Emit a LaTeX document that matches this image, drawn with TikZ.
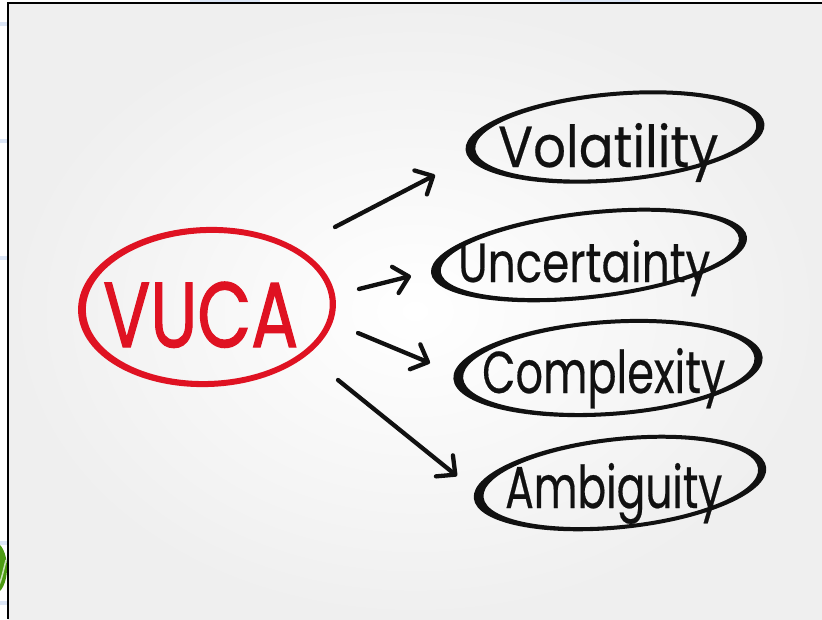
\documentclass[tikz,border=0pt]{standalone}
\usepackage{fontspec}
\setmainfont{Poppins}
\newfontfamily\vucafont[FakeBold=1.6]{Poppins}
\newfontfamily\inkfont[FakeBold=0.4]{Poppins}
\usepackage{graphicx}
\usetikzlibrary{arrows.meta}
\definecolor{vred}{HTML}{DF1222}
\definecolor{ink}{HTML}{111111}
\definecolor{bgout}{HTML}{EFEFEF}
\definecolor{faintblue}{HTML}{DCE6F6}
\definecolor{leafg}{HTML}{4C9A12}
% centre x, centre y, rx, ry, angle, colour, side thickness, top thickness
\newcommand\handring[8]{%
  \fill[#6, even odd rule, shift={(#1,#2)}, rotate=#5]
    (0,0) ellipse ({#3} and {#4})
    (0.8,0) ellipse ({#3-#7} and {#4-#8});}
\begin{document}
\begin{tikzpicture}[x=1pt,y=-1pt,
  arr/.style={ink, line width=4.3, line cap=round,
    -{Straight Barb[length=14pt,width=27pt,line cap=round,line join=round]}},
  lbl/.style={anchor=base west, inner sep=0, text=ink, font=\inkfont},
  frame/.style={black, line width=2}]
\useasboundingbox (0,0) rectangle (822,619);
% outside strip
\fill[white] (0,0) rectangle (822,619);
\foreach \yy in {24,141,258,543,603}{\fill[faintblue] (0,\yy-2) rectangle (7,\yy+2);}
\fill[faintblue] (190,0) rectangle (260,2);
\fill[faintblue] (560,0) rectangle (640,2);
% green leaf fragment
\begin{scope}
  \clip (0,530) rectangle (7.5,610);
  \fill[leafg] (-6,568) ellipse (13 and 26);
  \draw[white!70!leafg, line width=1.5] (-10,600) .. controls (0,585) .. (6,560);
\end{scope}
% background
\shade[inner color=white, outer color=bgout] (8,3) rectangle (822,619);
\draw[frame] (8,619) -- (8,3) -- (822,3);
% rings
\handring{207}{307}{129}{80}{2}{vred}{7}{6}
\handring{615}{137}{150}{45}{5}{ink}{9}{4}
\handring{589}{255}{159}{44}{6.5}{ink}{9}{4}
\handring{608}{368}{155}{48}{4}{ink}{9}{4}
\handring{620}{483}{147}{46}{6}{ink}{9}{4}
% texts
\node[anchor=base west, inner sep=0, text=vred, font=\vucafont] (vuca) at (103,347) {\resizebox{195pt}{65pt}{VUCA}};
\node[lbl] (vol) at (498,167) {\resizebox{220pt}{44pt}{Volatility}};
\node[lbl] (unc) at (458,282) {\resizebox{252pt}{42pt}{Uncertainty}};
\node[lbl] (com) at (482,393) {\resizebox{243pt}{45pt}{Complexity}};
\node[lbl] (amb) at (505,508) {\resizebox{217pt}{45pt}{Ambiguity}};
% arrows
\coordinate (a1s) at (335,227); \coordinate (a1e) at (435,175);
\coordinate (a2s) at (359,289); \coordinate (a2e) at (411,276);
\coordinate (a3s) at (358,333); \coordinate (a3e) at (430,363);
\coordinate (a4s) at (338,380); \coordinate (a4e) at (457,476);
\draw[arr] (a1s) -- (a1e);
\draw[arr] (a2s) -- (a2e);
\draw[arr] (a3s) -- (a3e);
\draw[arr] (a4s) -- (a4e);
\end{tikzpicture}
\end{document}
